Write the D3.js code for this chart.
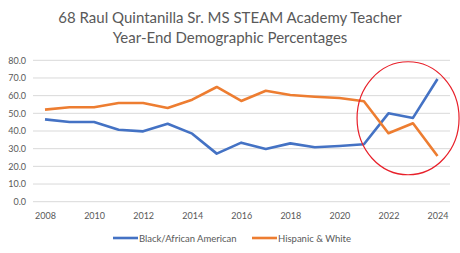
<!DOCTYPE html>
<html>
<head>
<meta charset="utf-8">
<script src="https://cdn.jsdelivr.net/npm/d3@7"></script>
<style>
  body { margin: 0; background: #fff; }
  svg { font-family: Lato, "Open Sans", sans-serif; }
</style>
</head>
<body>
<svg id="chart" width="460" height="253"></svg>
<script>
// Chart data
const years = [2008, 2009, 2010, 2011, 2012, 2013, 2014, 2015, 2016, 2017, 2018, 2019, 2020, 2021, 2022, 2023, 2024];
const blackValues = [46.6, 45.1, 45.1, 40.7, 39.8, 44.1, 38.5, 27.2, 33.4, 29.8, 33.0, 30.8, 31.5, 32.5, 50.0, 47.4, 69.4];
const hispanicValues = [52.1, 53.4, 53.4, 55.8, 55.8, 53.0, 57.7, 64.9, 57.0, 62.8, 60.4, 59.4, 58.7, 56.8, 38.7, 44.4, 25.9];
const yTicks = [0, 10, 20, 30, 40, 50, 60, 70, 80];
const xTicks = [2008, 2010, 2012, 2014, 2016, 2018, 2020, 2022, 2024];
const seriesNames = ["Black/African American", "Hispanic & White"];
const titleLines = ["68 Raul Quintanilla Sr. MS STEAM Academy Teacher", "Year-End Demographic Percentages"];

const svg = d3.select("#chart");
const textColor = "#595959";
const colors = ["#4472C4", "#ED7D31"];

// Plot area
const x = d3.scaleLinear().domain([2008, 2024]).range([45, 437.5]);
const y = d3.scaleLinear().domain([0, 80]).range([201.7, 60.3]);
const gridLeft = 33, gridRight = 450;

// Title
svg.append("g").selectAll("text")
  .data(titleLines)
  .join("text")
    .attr("x", 230)
    .attr("y", (d, i) => 23 + i * 19.5)
    .attr("text-anchor", "middle")
    .attr("font-size", 15)
    .attr("fill", textColor)
    .text(d => d);

// Gridlines
svg.append("g").selectAll("line")
  .data(yTicks)
  .join("line")
    .attr("x1", gridLeft)
    .attr("x2", gridRight)
    .attr("y1", d => y(d))
    .attr("y2", d => y(d))
    .attr("stroke", "#d9d9d9")
    .attr("stroke-width", 1);

// Y axis labels
const yAxis = svg.append("g")
  .attr("transform", `translate(${gridLeft - 4},0)`)
  .call(d3.axisLeft(y).tickValues(yTicks).tickFormat(d3.format(".1f")).tickSize(0));
yAxis.select(".domain").remove();
yAxis.selectAll("text")
  .attr("font-family", "Lato, 'Open Sans', sans-serif")
  .attr("font-size", 9)
  .attr("fill", textColor);

// X axis labels
const xAxis = svg.append("g")
  .attr("transform", `translate(0,${y(0) + 8})`)
  .call(d3.axisBottom(x).tickValues(xTicks).tickFormat(d3.format("d")).tickSize(0));
xAxis.select(".domain").remove();
xAxis.selectAll("text")
  .attr("font-family", "Lato, 'Open Sans', sans-serif")
  .attr("font-size", 9)
  .attr("fill", textColor);

// Lines
const line = d3.line()
  .x((d, i) => x(years[i]))
  .y(d => y(d));

[blackValues, hispanicValues].forEach((vals, i) => {
  svg.append("path")
    .datum(vals)
    .attr("d", line)
    .attr("fill", "none")
    .attr("stroke", colors[i])
    .attr("stroke-width", 2.6)
    .attr("stroke-linejoin", "round");
});

// Red circle annotation around the recent years
svg.append("ellipse")
  .attr("cx", x(2022.8))
  .attr("cy", y(47.2))
  .attr("rx", 51)
  .attr("ry", 56.5)
  .attr("fill", "none")
  .attr("stroke", "#e8202a")
  .attr("stroke-width", 1.2);

// Legend
const legendX = [113, 252];
const legend = svg.append("g").selectAll("g")
  .data(seriesNames)
  .join("g")
    .attr("transform", (d, i) => `translate(${legendX[i]},238)`);
legend.append("line")
  .attr("x1", 0).attr("x2", 25)
  .attr("stroke", (d, i) => colors[i])
  .attr("stroke-width", 2.6);
legend.append("text")
  .attr("x", 26)
  .attr("y", 3.5)
  .attr("font-size", 9.5)
  .attr("fill", textColor)
  .text(d => d);
</script>
</body>
</html>
